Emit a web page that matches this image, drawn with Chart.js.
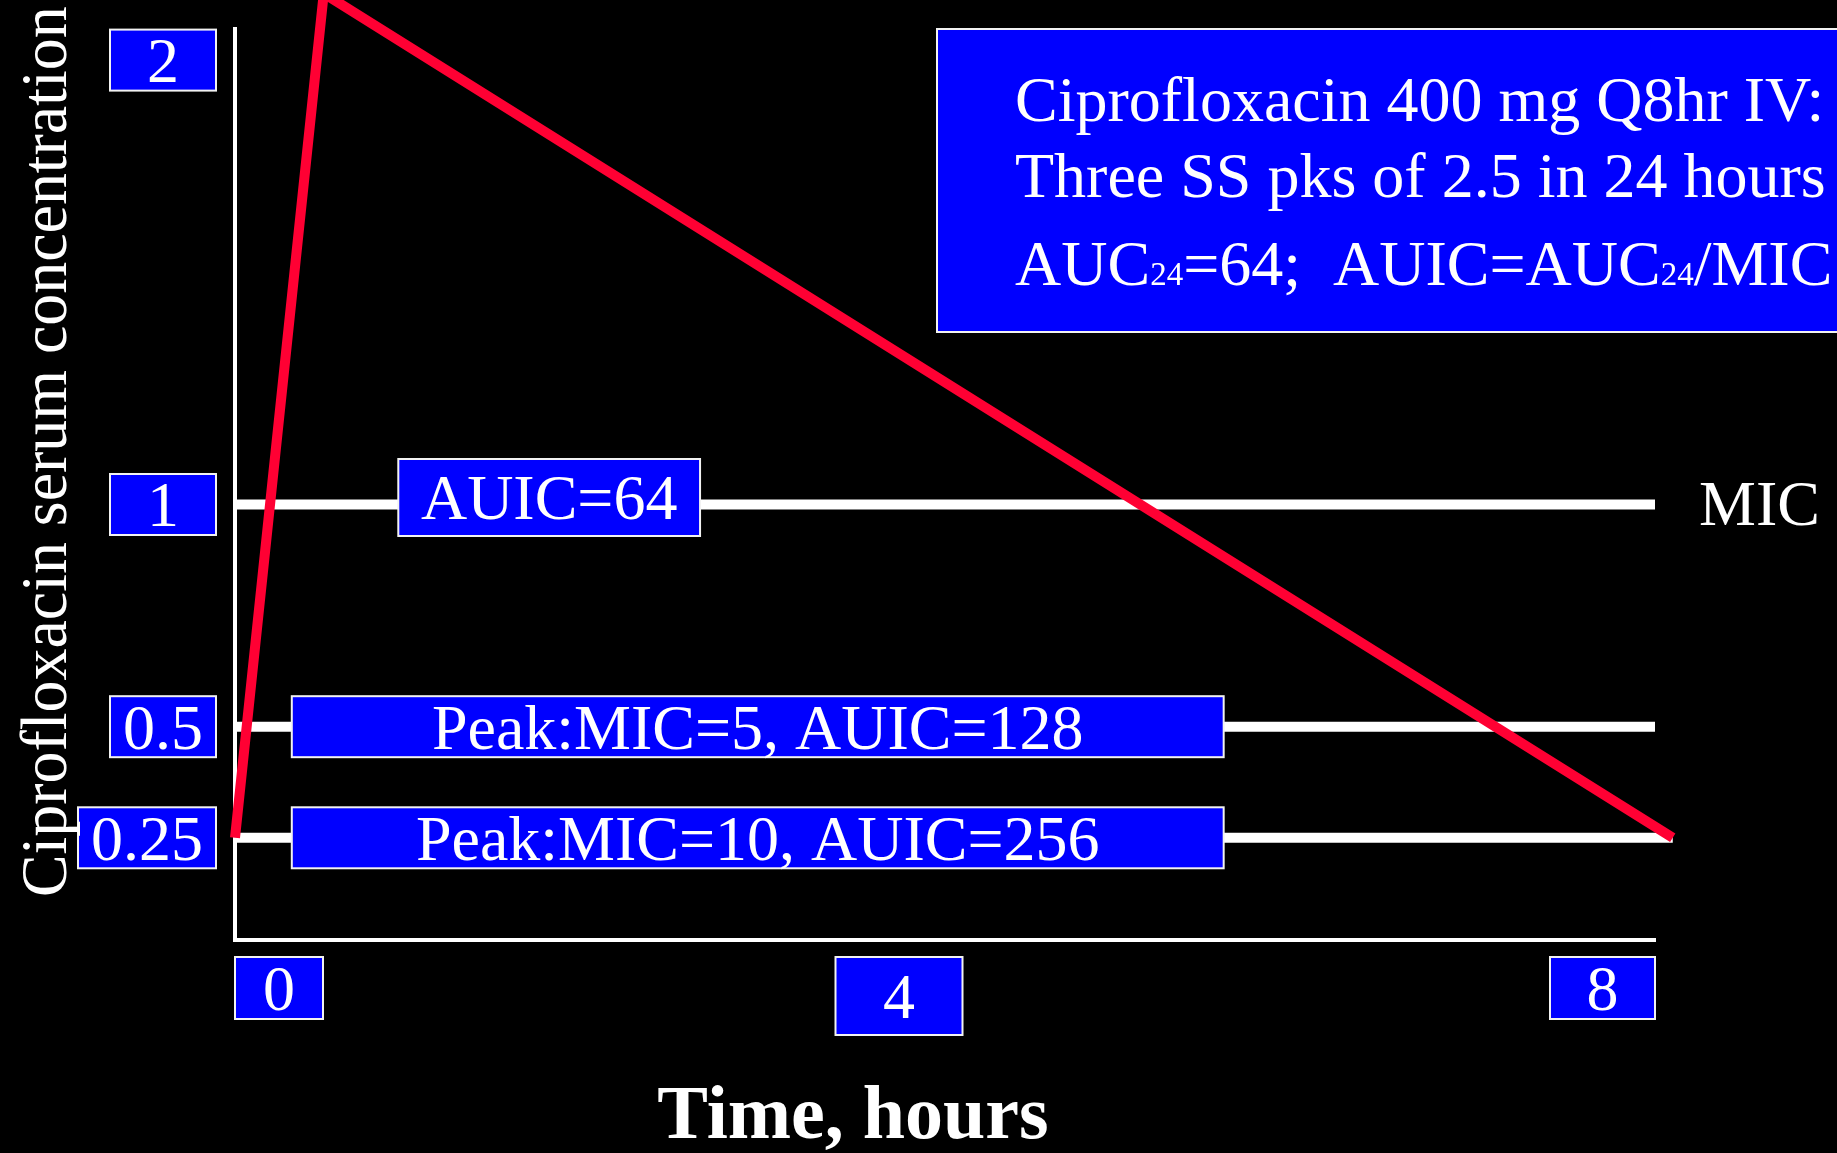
<!DOCTYPE html>
<html>
<head>
<meta charset="utf-8">
<title>Ciprofloxacin 400 mg Q8hr IV</title>
<script src="https://cdn.jsdelivr.net/npm/chart.js@4.4.1/dist/chart.umd.min.js"></script>
<style>
  html, body { margin: 0; padding: 0; background: #000; overflow: hidden; }
  canvas { display: block; }
</style>
</head>
<body>
<canvas id="chart" width="1837" height="1153"></canvas>
<script>
// serum curve: hours after dose vs concentration
const timeHours = [0, 0.5, 8.1];
const serumConc = [0.25, 2.15, 0.25];

// MIC reference levels drawn as white bars
const micLevels = [1, 0.5, 0.25];
const micLevelEnds = [8, 8, 8.1];
const micNotes = ['AUIC=64', 'Peak:MIC=5, AUIC=128', 'Peak:MIC=10, AUIC=256'];

// tick labels
const yTicks = [2, 1, 0.5, 0.25];
const xTicks = [0, 4, 8];

const infoLines = [
  [['Ciprofloxacin 400 mg Q8hr IV:']],
  [['Three SS pks of 2.5 in 24 hours']],
  [['AUC'], ['24', true], ['=64;  AUIC=AUC'], ['24', true], ['/MIC']]
];

const SERIF = '"Liberation Serif", "Times New Roman", serif';
const BLUE = '#0000ff';
const RED = '#ff0033';

// where the note boxes sit along each bar (hours) and their size
const noteLayout = [
  { from: 0.92, to: 2.62, h: 77, dy: -7 },
  { from: 0.32, to: 5.57, h: 61, dy: 0 },
  { from: 0.32, to: 5.57, h: 61, dy: 0 }
];

// x tick box styles: width, height, horizontal shift of the box
const xTickBoxes = [
  { w: 88, h: 62, align: 'left', shift: 0 },
  { w: 127, h: 78, align: 'center', shift: -46 },
  { w: 105, h: 62, align: 'right', shift: 0 }
];

function box(ctx, x, y, w, h) {
  ctx.fillStyle = BLUE;
  ctx.fillRect(x, y, w, h);
  ctx.strokeStyle = '#f2f2f2';
  ctx.lineWidth = 2;
  ctx.strokeRect(x, y, w, h);
}

function boxLabel(ctx, text, cx, cy) {
  ctx.fillStyle = '#fff';
  ctx.textAlign = 'center';
  ctx.textBaseline = 'alphabetic';
  ctx.fillText(text, cx, cy + 22);
}

const slideDecor = {
  id: 'slideDecor',
  beforeDraw(chart) {
    const ctx = chart.ctx;
    ctx.save();
    ctx.fillStyle = '#000';
    ctx.fillRect(0, 0, chart.width, chart.height);
    ctx.restore();
  },
  afterDraw(chart) {
    const ctx = chart.ctx;
    const xs = chart.scales.x, ys = chart.scales.y;
    const area = chart.chartArea;
    ctx.save();
    ctx.font = '64px ' + SERIF;

    // note boxes on the MIC bars
    micLevels.forEach((lvl, i) => {
      const L = noteLayout[i];
      const x0 = xs.getPixelForValue(L.from), x1 = xs.getPixelForValue(L.to);
      const cy = ys.getPixelForValue(lvl) + L.dy;
      box(ctx, x0, cy - L.h / 2, x1 - x0, L.h);
      boxLabel(ctx, micNotes[i], (x0 + x1) / 2, cy);
    });

    // MIC label at end of the first bar
    const micY = ys.getPixelForValue(micLevels[0]);
    ctx.fillStyle = '#fff';
    ctx.textAlign = 'left';
    ctx.fillText('MIC', xs.getPixelForValue(micLevelEnds[0]) + 44, micY + 21);

    // y tick boxes
    ys.ticks.forEach(t => {
      const y = ys.getPixelForValue(t.value);
      const label = String(t.value);
      const w = Math.max(106, ctx.measureText(label).width + 26);
      const right = area.left - 19;
      box(ctx, right - w, y - 30.5, w, 61);
      boxLabel(ctx, label, right - w / 2, y);
    });

    // x tick boxes
    xs.ticks.forEach((t, i) => {
      const px = xs.getPixelForValue(t.value);
      const s = xTickBoxes[i];
      let x = px - s.w / 2;
      if (s.align === 'left') x = px;
      if (s.align === 'right') x = px - s.w;
      x += s.shift;
      const top = area.bottom + 17;
      box(ctx, x, top, s.w, s.h);
      boxLabel(ctx, String(t.value), x + s.w / 2, top + s.h / 2);
    });

    // info box, top right
    box(ctx, 937, 29, 960, 303);
    const baselines = [121, 197, 285];
    ctx.fillStyle = '#fff';
    ctx.textAlign = 'left';
    infoLines.forEach((runs, li) => {
      let x = 1015;
      runs.forEach(([txt, sub]) => {
        ctx.font = (sub ? '33px ' : '64px ') + SERIF;
        ctx.fillText(txt, x, baselines[li]);
        x += ctx.measureText(txt).width;
      });
    });

    // axis titles
    ctx.font = 'bold 76px ' + SERIF;
    ctx.textAlign = 'center';
    ctx.fillText('Time, hours', 853, 1138);

    ctx.font = '66px ' + SERIF;
    ctx.textAlign = 'left';
    ctx.translate(66, 897);
    ctx.rotate(-Math.PI / 2);
    ctx.scale(0.968, 1);
    ctx.fillText('Ciprofloxacin serum concentration', 0, 0);
    ctx.restore();
  }
};

const datasets = [{
  label: 'Ciprofloxacin',
  data: timeHours.map((t, i) => ({ x: t, y: serumConc[i] })),
  borderColor: RED,
  borderWidth: 10,
  borderCapStyle: 'butt',
  borderJoinStyle: 'miter',
  pointRadius: 0,
  tension: 0,
  clip: false,
  order: 0
}];

micLevels.forEach((lvl, i) => {
  datasets.push({
    label: 'MIC ' + lvl,
    data: [{ x: 0, y: lvl }, { x: micLevelEnds[i], y: lvl }],
    borderColor: '#ffffff',
    borderWidth: 10,
    borderCapStyle: 'butt',
    pointRadius: 0,
    clip: false,
    order: 1
  });
});

const axisStyle = {
  ticks: { display: false },
  grid: { display: false, drawTicks: false },
  border: { display: true, color: '#ffffff', width: 4 }
};

new Chart(document.getElementById('chart').getContext('2d'), {
  type: 'line',
  data: { datasets },
  options: {
    responsive: false,
    devicePixelRatio: 1,
    animation: false,
    layout: { padding: { left: 235, right: 182, top: 29, bottom: 213 } },
    plugins: { legend: { display: false }, tooltip: { enabled: false } },
    scales: {
      x: Object.assign({
        type: 'linear', min: 0, max: 8,
        afterBuildTicks: s => { s.ticks = xTicks.map(v => ({ value: v })); }
      }, axisStyle),
      y: Object.assign({
        type: 'linear', min: 0.02, max: 2.07,
        afterBuildTicks: s => { s.ticks = yTicks.map(v => ({ value: v })); }
      }, axisStyle)
    }
  },
  plugins: [slideDecor]
});
</script>
</body>
</html>
